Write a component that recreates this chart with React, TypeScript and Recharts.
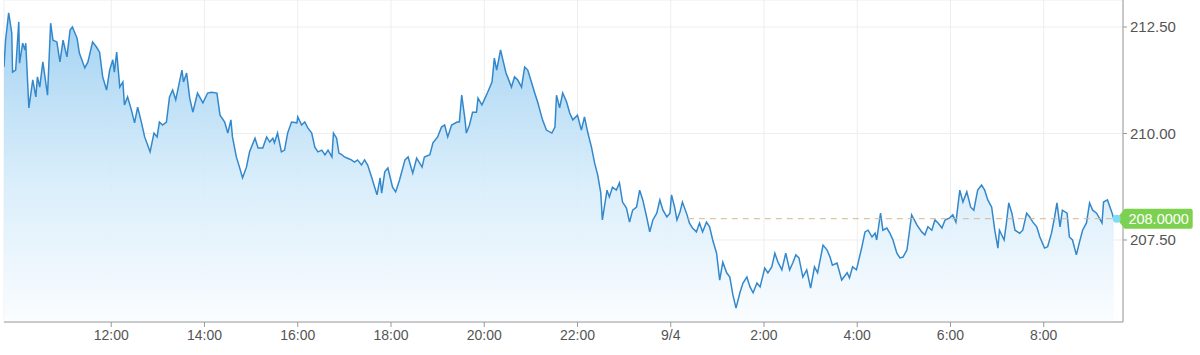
import React from 'react';
import { AreaChart, Area, XAxis, YAxis, CartesianGrid, ReferenceLine, ReferenceDot } from 'recharts';

// minutes since 00:00 of the first day
const TIMES = [
  582, 584, 588, 592, 593, 597, 601, 602, 606, 609, 610, 614, 619, 623, 625, 628, 632, 638, 642, 645,
  650, 654, 658, 663, 667, 670, 676, 679, 686, 690, 696, 701, 705, 709, 714, 718, 722, 724, 727, 731,
  735, 737, 741, 746, 750, 754, 759, 763, 770, 775, 779, 782, 786, 791, 795, 799, 803, 807, 811, 813,
  817, 821,
  825, 831, 838, 844, 849, 856, 860, 866, 870, 874, 876, 881, 885, 889, 894, 898, 905, 909, 915, 920,
  924, 928, 930, 934, 939, 943, 947, 952, 959, 960, 965, 969, 973, 978, 982, 986, 991, 995, 999, 1004,
  1006, 1010, 1013, 1017, 1020, 1024, 1029, 1033, 1037, 1042, 1046, 1050, 1055, 1059, 1062, 1066, 1068, 1072,
  1076, 1082, 1086, 1091, 1098, 1102, 1108, 1113, 1120, 1123, 1130, 1134, 1140, 1145, 1149, 1153, 1158, 1165,
  1168, 1171, 1175, 1177, 1181, 1185, 1190, 1192, 1197, 1201, 1204, 1210, 1213, 1216, 1221, 1224, 1228, 1230,
  1235, 1239, 1243, 1248, 1252, 1256, 1261, 1265, 1269, 1275, 1280, 1287, 1291, 1293, 1297, 1301, 1306, 1310,
  1314, 1320, 1325, 1329, 1333, 1338, 1342, 1346, 1350, 1352, 1358, 1361, 1365, 1370, 1374, 1378, 1383, 1387,
  1391, 1396, 1400, 1404, 1409, 1413, 1417, 1422, 1426, 1430, 1435, 1439, 1441, 1445, 1448, 1452, 1455, 1461,
  1464, 1468, 1473, 1477, 1481, 1486, 1490, 1494, 1499, 1503, 1507, 1512, 1516, 1520, 1524, 1529, 1533, 1538,
  1542, 1546, 1551,
  1555, 1561, 1565, 1570, 1574, 1578, 1583, 1588, 1593, 1597, 1601, 1605, 1610, 1615, 1620, 1625, 1629, 1636,
  1641, 1645, 1648, 1654, 1660, 1667, 1670, 1674, 1679, 1686, 1690, 1694, 1699, 1703, 1705, 1710, 1713, 1718,
  1722, 1726, 1731, 1735, 1739, 1744, 1750, 1757, 1763, 1767, 1771, 1776, 1780, 1784, 1789, 1793, 1799,
  1803, 1807, 1812, 1816, 1821, 1826, 1830, 1835, 1840, 1844, 1848, 1853, 1857, 1861, 1863, 1869, 1872, 1875,
  1879, 1883, 1889, 1893, 1898, 1902, 1906, 1911, 1915, 1921, 1925, 1930, 1934, 1937, 1941, 1944, 1950, 1953,
  1957, 1962, 1966, 1970, 1975, 1979, 1983, 1988, 1995, 1997, 2002, 2008, 2010,
];

const PRICES = [
  211.56, 212.19, 212.83, 212.36, 211.44, 211.49, 212.62, 211.65, 212.12, 211.96, 212.12, 210.60, 211.26, 210.86, 211.33, 211.09, 211.68, 210.90, 212.59, 212.19,
  212.15, 211.68, 212.19, 211.80, 212.43, 212.50, 212.24, 211.89, 211.54, 211.68, 212.15, 212.03, 211.91, 211.33, 211.02, 211.49, 211.73, 211.44, 211.91, 211.09,
  211.21, 210.67, 210.86, 210.55, 210.25, 210.62, 210.25, 209.92, 209.57, 210.01, 209.92, 210.27, 210.20, 210.27, 210.86, 211.02, 210.79, 211.14, 211.49, 211.21,
  211.42, 210.83,
  210.50, 210.95, 210.72, 210.95, 210.97, 210.95, 210.43, 210.27, 210.01, 210.32, 209.92, 209.45, 209.21, 208.96, 209.21, 209.57, 209.89, 209.66, 209.66, 209.92,
  209.80, 209.89, 209.78, 210.01, 209.57, 209.61, 210.01, 210.27, 210.25, 210.39, 210.20, 210.27, 210.13, 210.01, 209.68, 209.57, 209.61, 209.50, 209.61, 209.45,
  210.01, 209.89, 209.54, 209.50, 209.45, 209.42, 209.38, 209.33, 209.38, 209.26, 209.38, 209.26, 208.98, 208.74, 208.56, 208.96, 208.60, 209.10,
  209.19, 208.74, 208.63, 208.91, 209.38, 209.45, 209.07, 209.42, 209.21, 209.45, 209.50, 209.78, 209.92, 210.15, 210.20, 209.92, 210.20, 210.27,
  210.27, 210.90, 210.36, 210.01, 210.20, 210.50, 210.50, 210.83, 210.67, 210.83, 210.95, 211.21, 211.77, 211.49, 211.96, 211.73, 211.42, 211.33,
  211.09, 211.33, 211.26, 211.09, 211.56, 211.49, 211.19, 210.95, 210.72, 210.32, 210.08, 210.01, 210.15, 210.90, 210.60, 210.95, 210.74, 210.48,
  210.32, 210.43, 210.08, 210.39, 210.04, 209.68, 209.31, 209.03, 208.60, 207.97, 208.67, 208.51, 208.74, 208.67, 208.84, 208.39, 208.25, 207.92,
  208.20, 208.27, 208.67, 208.44, 208.04, 207.69, 207.97, 208.13, 208.44, 208.20, 208.04, 208.13, 208.56, 208.27, 207.97, 208.16, 208.39, 208.09,
  207.90, 207.78, 207.69, 207.90, 207.69, 207.92, 207.81, 207.50, 207.19, 206.56, 206.98, 206.73, 206.63, 206.21, 205.90, 206.26, 206.49, 206.63,
  206.40, 206.26, 206.49,
  206.40, 206.84, 206.73, 206.87, 207.19, 206.98, 206.80, 207.19, 206.80, 206.96, 207.15, 207.08, 206.63, 206.80, 206.37, 206.87, 206.73, 207.38,
  207.27, 207.10, 206.91, 206.96, 206.56, 206.73, 206.61, 206.87, 206.80, 207.34, 207.69, 207.73, 207.57, 207.66, 207.50, 208.13, 207.73, 207.78,
  207.66, 207.50, 207.19, 207.08, 207.10, 207.27, 208.09, 207.85, 207.69, 207.62, 207.81, 207.73, 207.97, 207.90, 207.78, 207.97, 208.02,
  208.09, 207.92, 208.67, 208.39, 208.63, 208.27, 208.20, 208.67, 208.79, 208.67, 208.44, 208.27, 207.73, 207.31, 207.73, 207.50, 207.90, 208.37,
  208.13, 207.73, 207.66, 207.73, 208.13, 208.04, 207.92, 207.81, 207.57, 207.31, 207.34, 207.66, 208.04, 208.37, 207.81, 208.20, 208.13, 207.57,
  207.50, 207.15, 207.45, 207.73, 207.90, 208.37, 208.20, 208.13, 207.90, 208.39, 208.44, 208.13, 208.00,
];

const TICK_TIMES = [720, 840, 960, 1080, 1200, 1320, 1440, 1560, 1680, 1800, 1920];
const TICK_LABELS = ['12:00', '14:00', '16:00', '18:00', '20:00', '22:00', '9/4', '2:00', '4:00', '6:00', '8:00'];
const PRICE_TICKS = [207.5, 210, 212.5];
const LAST_PRICE = 208.0;
const LAST_TIME = 2010;
const REF_START = 1462;
const X_DOMAIN = [582, 2022];
const Y_DOMAIN = [205.575, 213.134];

const data = TIMES.map((t, i) => ({ t, price: PRICES[i] }));

const FONT = '"Liberation Sans", Arial, sans-serif';

const TagShape = (props: any) => {
  const { cx, cy } = props;
  if (cx == null || cy == null) return null;
  const x0 = cx + 3;
  const w = 66;
  const h = 20;
  const p = `M ${x0} ${cy} L ${x0 + 8} ${cy - h / 2} L ${x0 + 8 + w} ${cy - h / 2} Q ${x0 + 10 + w} ${cy - h / 2} ${x0 + 10 + w} ${cy - h / 2 + 2} L ${x0 + 10 + w} ${cy + h / 2 - 2} Q ${x0 + 10 + w} ${cy + h / 2} ${x0 + 8 + w} ${cy + h / 2} L ${x0 + 8} ${cy + h / 2} Z`;
  return (
    <g>
      <path d={p} fill="#7dd150" />
      <circle cx={cx + 3} cy={cy} r={4} fill="#7fdcf2" />
      <text x={x0 + 9 + w / 2} y={cy + 5} textAnchor="middle" fill="#ffffff" fontSize={14.5} fontFamily={FONT}>
        {LAST_PRICE.toFixed(4)}
      </text>
    </g>
  );
};

export default function App() {
  return (
    <div style={{ position: 'absolute', left: 0, top: 0, width: 1200, height: 355, background: '#ffffff' }}>
      <AreaChart width={1200} height={355} data={data} margin={{ top: 0, right: 0, bottom: 0, left: 4 }}>
        <defs>
          <linearGradient id="areaFill" x1="0" y1="0" x2="0" y2="1">
            <stop offset="0%" stopColor="#9ccff1" stopOpacity={0.95} />
            <stop offset="55%" stopColor="#d6ecfa" stopOpacity={0.9} />
            <stop offset="100%" stopColor="#fbfdff" stopOpacity={1} />
          </linearGradient>
        </defs>
        <CartesianGrid stroke="#eeeeee" vertical horizontal />
        <XAxis
          dataKey="t"
          type="number"
          domain={X_DOMAIN}
          allowDataOverflow
          ticks={TICK_TIMES}
          tickFormatter={(v: number) => TICK_LABELS[TICK_TIMES.indexOf(v)] ?? ''}
          height={33}
          stroke="#9a9a9a"
          tickSize={5}
          tickMargin={3}
          tick={{ fill: '#555555', fontSize: 14, fontFamily: FONT }}
        />
        <YAxis
          orientation="right"
          type="number"
          domain={Y_DOMAIN}
          allowDataOverflow
          ticks={PRICE_TICKS}
          tickFormatter={(v: number) => v.toFixed(2)}
          width={77}
          stroke="#9a9a9a"
          tickSize={4}
          tickMargin={3}
          tick={{ fill: '#555555', fontSize: 15, fontFamily: FONT, textAnchor: 'start' }}
        />
        <Area
          type="linear"
          dataKey="price"
          stroke="#3388cc"
          strokeWidth={1.5}
          fill="url(#areaFill)"
          fillOpacity={1}
          isAnimationActive={false}
          dot={false}
          activeDot={false}
        />
        <ReferenceLine
          segment={[{ x: REF_START, y: LAST_PRICE }, { x: LAST_TIME, y: LAST_PRICE }]}
          stroke="#d2b98c"
          strokeDasharray="6 5"
          strokeWidth={1}
        />
        <ReferenceDot x={LAST_TIME} y={LAST_PRICE} ifOverflow="visible" shape={TagShape} />
      </AreaChart>
    </div>
  );
}
